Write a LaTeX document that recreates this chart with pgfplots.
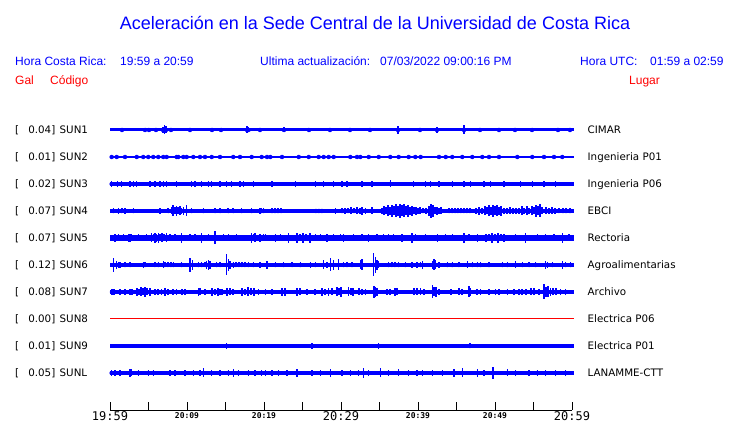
\documentclass[border=0pt]{standalone}
\usepackage{pgfplots}
\pgfplotsset{compat=1.18}
\usepackage{pgfplotstable}
\usepackage{fontspec}
\setmainfont{Liberation Sans}
\newfontfamily\dvs{DejaVu Sans}
\newfontfamily\dvsm{DejaVu Sans Mono}
\newcommand\bigt[1]{{\dvsm\fontsize{12}{12}\selectfont #1}}
\newcommand\smt[1]{\raisebox{2pt}{\dvsm\bfseries\fontsize{8}{8}\selectfont #1}}
\pgfplotsset{spk/.style={only marks, mark=none, blue, error bars/.cd, y dir=both, y explicit, error mark=none, error bar style={line width=#1, draw=blue, solid}}}

% t = minutes after 19:59, h = half height of spike (pt)
\pgfplotstableread[row sep=\\]{t h\\1.56 2\\4.55 2\\5.06 2\\5.97 2\\6.88 3\\7.08 4.5\\7.27 3.5\\7.92 2\\10.39 2\\13.25 2\\14.42 2\\17.79 3.5\\17.99 2.5\\19.48 2\\22.60 2.5\\25.84 2\\28.57 2\\31.17 2\\33.77 2\\37.40 4\\40.26 2\\42.47 3\\45.97 4.5\\48.05 2\\50.52 2\\52.60 2\\54.81 2\\58.18 2\\59.74 2\\}\sunA
\pgfplotstableread[row sep=\\]{t h\\0.22 1.8\\0.87 1.8\\1.95 1.8\\3.47 1.8\\4.32 1.8\\4.97 1.8\\5.62 1.8\\6.27 1.8\\6.92 1.8\\7.36 1.8\\8.66 2.2\\8.87 1.8\\9.52 1.8\\9.96 1.8\\10.82 1.8\\11.69 1.8\\12.34 1.8\\13.21 1.8\\14.29 1.8\\16.01 1.8\\16.88 1.8\\18.40 1.8\\19.70 1.8\\20.39 1.8\\20.82 1.8\\22.34 1.8\\24.51 2.2\\25.81 1.8\\27.10 1.8\\27.75 2.2\\28.40 1.8\\29.05 1.8\\31.21 1.8\\32.08 1.8\\32.51 1.8\\33.60 2.2\\34.90 1.8\\36.40 1.8\\37.49 1.8\\38.79 1.8\\39.65 1.8\\40.35 1.8\\42.73 1.8\\43.60 1.8\\44.45 1.8\\45.75 1.8\\47.05 1.8\\48.35 1.8\\49.22 1.8\\50.52 1.8\\52.90 1.8\\54.84 1.8\\56.36 1.8\\57.66 1.8\\58.74 1.8\\}\sunB
\pgfplotstableread[row sep=\\]{t h\\0.22 3\\1.00 3\\1.52 3\\2.60 3\\3.03 3\\3.47 3\\5.19 3\\5.84 3\\6.49 3\\6.92 3\\7.36 3\\8.66 3\\10.61 3\\11.04 3\\11.91 3\\12.77 3\\13.21 3\\14.29 3\\15.15 3\\15.80 3\\16.88 3\\17.31 3\\18.61 3\\21.04 3\\24.07 3\\26.66 3\\27.75 3\\29.05 3\\30.13 3\\30.78 3\\32.73 3\\34.03 3\\36.40 3.5\\39.43 3\\40.99 3.2\\41.64 3\\42.73 3\\44.45 3\\45.97 3\\46.84 3\\48.57 3\\49.44 3\\51.17 3\\53.33 3\\54.84 3\\56.36 3\\57.88 3\\}\sunC
\pgfplotstableread[row sep=\\]{t h\\0.43 2.5\\1.08 3\\1.52 2.5\\1.95 3\\3.03 2.5\\6.49 3\\7.57 2.5\\8.01 3.5\\8.22 5.5\\8.44 3.5\\8.66 5\\8.87 3.5\\9.09 4.5\\9.31 3\\9.52 4\\9.96 5.5\\10.61 2.5\\12.12 2.5\\13.64 2.5\\14.29 2.5\\15.36 2.5\\16.01 2.5\\17.10 2.5\\18.40 2.5\\19.48 3\\19.70 2.5\\19.96 2.5\\21.04 2.5\\21.43 2.5\\21.82 2.5\\22.21 2.5\\26.75 2.3\\27.14 2.3\\27.53 2.3\\29.26 2.7\\30.13 2.5\\30.52 3\\30.91 2.5\\31.30 3.5\\31.69 2.5\\32.08 3.5\\32.47 2.7\\32.73 4\\33.16 3\\34.03 3.5\\35.32 3\\35.58 4.5\\35.84 3.5\\36.10 5.5\\36.36 4\\36.62 6\\36.88 4.5\\37.14 6.5\\37.40 5\\37.66 7\\37.92 5.5\\38.18 6.5\\38.44 4.5\\38.70 6\\38.96 4\\39.22 5\\39.48 3.5\\39.74 4\\40.00 3\\40.26 3.5\\40.65 2.5\\41.04 3\\41.43 5\\41.69 7\\41.95 6\\42.21 3.5\\42.47 4\\42.73 3\\42.99 3.5\\44.03 2.5\\44.42 2.5\\44.81 2.5\\45.19 2.5\\45.58 2.5\\45.97 2.5\\46.36 2.5\\46.75 2.5\\47.53 3\\47.92 4\\48.31 3\\48.70 4.5\\48.96 3.5\\49.22 5.5\\49.48 4\\49.74 6\\50.00 4.5\\50.26 5.5\\50.52 4\\50.78 5\\51.17 3\\51.56 3\\51.95 3.5\\52.34 3\\52.73 3\\53.12 3\\53.51 4.5\\53.77 3\\54.16 4.5\\54.42 3\\54.81 4.5\\55.06 3.5\\55.32 6\\55.58 4.5\\55.84 6.5\\56.10 3.5\\56.62 3.5\\57.01 3\\57.40 3.5\\57.79 3\\58.31 2.5\\58.83 2.5\\59.22 2.5\\59.74 2.5\\}\sunD
\pgfplotstableread[row sep=\\]{t h\\0.65 4\\1.08 3.5\\1.73 3.5\\2.38 4\\2.60 4\\2.82 3.5\\3.68 3.5\\4.77 3.5\\5.42 4.5\\5.62 3.5\\5.84 5\\6.06 4\\6.27 5\\6.49 3.5\\6.75 4.5\\7.01 3.5\\7.36 4.5\\7.79 3.5\\8.44 3.5\\9.31 5\\10.39 3.5\\11.04 3.5\\11.91 5\\12.77 3.5\\13.64 6.5\\14.71 3.5\\15.36 3.5\\16.45 3.5\\18.40 5\\18.61 3.5\\18.83 4.5\\19.48 4\\19.91 3.5\\20.17 3.5\\21.47 4\\22.12 3.5\\23.21 5\\24.29 5\\24.68 3.5\\25.06 5\\25.45 3.5\\25.97 5\\26.66 3.5\\27.31 3.5\\28.18 4\\29.05 3.5\\29.91 3.5\\30.35 4\\31.65 3.5\\32.73 3.5\\33.60 4\\34.68 3.5\\35.55 3.5\\36.19 3.5\\36.84 3.5\\37.92 4\\39.22 5\\39.65 3.5\\41.00 3.5\\42.51 4\\43.60 3.5\\44.45 3.5\\45.97 5\\46.62 3.5\\47.70 4\\48.83 4\\49.22 3.5\\49.61 5\\50.00 3.5\\50.39 5\\50.78 3.5\\51.17 4\\52.69 3.5\\53.99 5\\55.49 3.5\\56.58 3.5\\57.66 3.5\\58.74 5\\59.61 3.5\\}\sunE
\pgfplotstableread[row sep=\\]{t h\\0.43 6.8\\0.87 4\\1.08 3\\1.30 3\\1.95 2.5\\2.60 2.5\\4.32 3\\4.55 2.5\\5.84 2.5\\6.27 2.5\\6.92 3.5\\7.14 2.5\\7.53 2.5\\7.92 2.5\\8.22 2.5\\9.31 2.5\\10.39 7\\10.69 5\\11.47 2.5\\11.91 2.5\\12.34 2.5\\12.56 4\\12.77 5\\12.99 4\\13.86 2.5\\14.29 2.5\\15.16 10.5\\15.36 6\\15.58 4\\16.01 3\\16.36 2.5\\16.75 2.5\\17.14 2.5\\17.53 2.5\\17.96 2.5\\18.61 2.5\\19.48 3\\20.39 4\\21.47 2.5\\22.56 2.5\\23.64 2.5\\24.71 2.5\\26.01 3\\26.66 2.5\\27.75 4.5\\28.18 3\\28.61 6.5\\29.05 5\\29.70 5.5\\30.35 2.5\\30.78 2.5\\31.43 2.5\\32.51 4.5\\32.73 5.5\\34.25 11.5\\34.45 8\\34.68 5\\34.90 3.5\\36.19 2.5\\36.62 2.5\\37.01 2.5\\37.49 2.5\\38.35 2.5\\39.22 3\\39.87 3\\40.30 2.5\\40.56 4\\41.86 4\\42.08 5.5\\42.30 4.5\\42.73 3\\43.81 2.5\\44.45 2.5\\45.32 2.5\\46.40 3.5\\47.05 2.5\\47.70 2.5\\48.14 2.5\\49.22 2.5\\50.95 2.5\\51.60 2.5\\52.69 3.5\\53.55 2.5\\54.42 2.5\\55.29 2.5\\56.58 4\\56.79 3\\57.44 2.5\\58.74 4\\59.18 2.5\\59.83 2.5\\}\sunF
\pgfplotstableread[row sep=\\]{t h\\0.26 3\\0.52 3\\1.30 2.7\\1.95 2.7\\2.60 3\\2.82 3\\3.51 4\\3.77 3\\4.03 4.5\\4.29 3.5\\4.55 5\\4.81 3.5\\5.19 4\\5.84 3\\6.23 3\\6.71 3\\7.14 4\\7.57 3\\8.22 2.7\\8.66 2.7\\9.35 3\\9.74 3\\11.47 4\\11.69 3.5\\12.34 2.7\\13.25 4\\13.64 3\\14.03 4\\14.29 3\\14.51 2.7\\15.19 4\\15.58 3.5\\16.01 2.7\\17.14 4\\17.53 3\\17.92 4.5\\18.31 3.5\\18.70 4\\19.26 2.7\\20.17 2.7\\21.04 3\\22.34 4\\22.73 4\\24.29 4\\24.71 3.5\\25.58 2.7\\26.66 2.7\\27.53 4\\27.96 3\\28.40 4\\28.83 3.5\\29.48 4.5\\29.74 3.5\\30.00 5\\31.00 4.5\\31.30 3.5\\31.56 4\\32.30 3.5\\32.73 3\\33.16 2.7\\34.25 6.3\\34.48 5\\34.68 4\\35.97 3\\36.40 3\\37.05 4\\37.27 3.5\\39.48 3.5\\39.87 3.5\\40.35 3.5\\40.78 3\\41.86 6.5\\42.08 4.5\\42.30 5\\42.73 3\\44.25 2.7\\45.32 3.5\\45.75 2.7\\46.62 5.5\\46.84 4\\47.70 3\\48.14 3\\49.22 2.7\\50.09 3\\50.52 3\\51.60 2.7\\52.47 2.7\\53.12 3\\53.51 3\\53.99 3\\54.64 3.5\\55.06 3.5\\55.71 2.7\\56.36 7.5\\56.62 5\\56.88 5.5\\57.23 4\\57.53 3.5\\57.92 3.5\\58.53 3\\59.18 2.7\\}\sunG
\pgfplotstableread[row sep=\\]{t h\\15.16 2.7\\26.23 2.7\\34.90 2.7\\46.75 2.5\\}\sunI
\pgfplotstableread[row sep=\\]{t h\\0.22 3\\0.65 3\\1.30 3\\2.60 4\\2.82 3.5\\3.68 3\\4.97 3\\5.62 3\\7.79 3\\8.44 3\\9.74 3\\10.82 3\\11.69 3\\12.12 4.5\\13.21 3\\14.29 3\\15.36 3\\16.01 4\\16.66 3\\17.96 3\\18.83 3\\19.70 3\\20.17 3\\21.04 3\\21.91 3\\22.99 3\\24.29 4\\26.23 3\\27.31 3\\28.61 4\\30.13 3\\31.21 3\\32.30 3\\32.95 5\\33.60 3\\35.10 4.5\\36.19 3\\37.49 3.5\\38.79 3\\39.87 3\\40.56 3\\41.86 3\\43.16 3\\44.68 4\\45.75 4.5\\47.70 4\\48.57 3\\49.74 6\\51.60 3.5\\52.69 3\\54.42 3\\55.49 3\\56.58 3\\57.88 3\\59.18 3\\}\sunL

\begin{document}
\begin{tikzpicture}
\useasboundingbox (0pt,0pt) rectangle (740pt,423pt);
\begin{axis}[
  at={(110pt,13pt)}, anchor=south west,
  scale only axis, width=462pt, height=300pt,
  xmin=0, xmax=60, ymin=13, ymax=313,
  clip=false,
  axis x line=bottom, axis y line=none,
  axis line style={-, black, line width=0.8pt},
  xtick={0,5,...,60},
  xticklabels={\bigt{19:59},,\smt{20:09},,\smt{20:19},,\bigt{20:29},,\smt{20:39},,\smt{20:49},,\bigt{20:59}},
  tick align=inside, major tick length=8pt,
  tick style={black, line width=0.8pt},
  xticklabel style={anchor=base, yshift=-11pt, inner sep=0pt},
]
% SUN1
\addplot[blue, line width=3pt] coordinates {(0,293) (60.3,293)};
\addplot[spk=1.2pt] table[x=t, y expr=293, y error=h] {\sunA};
% SUN2
\addplot[blue, line width=1.1pt] coordinates {(0,266) (60.3,266)};
\addplot[spk=0.7pt] table[x=t, y expr=266, y error=h] {\sunB};
% SUN3
\addplot[blue, line width=3.7pt] coordinates {(0,239) (60.3,239)};
\addplot[spk=1.3pt] table[x=t, y expr=239, y error=h] {\sunC};
% SUN4
\addplot[blue, line width=3.3pt] coordinates {(0,212) (60.3,212)};
\addplot[spk=1.6pt] table[x=t, y expr=212, y error=h] {\sunD};
% SUN5
\addplot[blue, line width=5.3pt] coordinates {(0,185) (60.3,185)};
\addplot[spk=1.5pt] table[x=t, y expr=185, y error=h] {\sunE};
% SUN6
\addplot[blue, line width=3.3pt] coordinates {(0,158) (60.3,158)};
\addplot[spk=1.3pt] table[x=t, y expr=158, y error=h] {\sunF};
% SUN7
\addplot[blue, line width=4pt] coordinates {(0,131) (60.3,131)};
\addplot[spk=1.6pt] table[x=t, y expr=131, y error=h] {\sunG};
% SUN8
\addplot[red, line width=1pt] coordinates {(0,104) (60.3,104)};
% SUN9
\addplot[blue, line width=3.6pt] coordinates {(0,77) (60.3,77)};
\addplot[spk=1.2pt] table[x=t, y expr=77, y error=h] {\sunI};
% SUNL
\addplot[blue, line width=3.7pt] coordinates {(0,50) (60.3,50)};
\addplot[spk=1.3pt] table[x=t, y expr=50, y error=h] {\sunL};
\end{axis}

% header
\node[anchor=base, inner sep=0pt, text=blue, font=\fontsize{18}{18}\selectfont] at (375pt,393.5pt) {Aceleración en la Sede Central de la Universidad de Costa Rica};
\begin{scope}[every node/.style={anchor=base west, inner sep=0pt, text=blue, font=\fontsize{12}{12}\selectfont}]
\node at (15pt,357.7pt) {Hora Costa Rica:};
\node at (120pt,357.7pt) {19:59 a 20:59};
\node at (260pt,357.7pt) {Ultima actualización:};
\node at (380pt,357.7pt) {07/03/2022 09:00:16 PM};
\node at (580pt,357.7pt) {Hora UTC:};
\node at (650pt,357.7pt) {01:59 a 02:59};
\node[text=red] at (15pt,338.7pt) {Gal};
\node[text=red] at (50pt,338.7pt) {Código};
\node[text=red] at (629pt,338.7pt) {Lugar};
\end{scope}

% row labels
\foreach \yy/\vv/\cc/\ss in {293/0.04/SUN1/CIMAR, 266/0.01/SUN2/Ingenieria P01, 239/0.02/SUN3/Ingenieria P06, 212/0.07/SUN4/EBCI, 185/0.07/SUN5/Rectoria, 158/0.12/SUN6/Agroalimentarias, 131/0.08/SUN7/Archivo, 104/0.00/SUN8/Electrica P06, 77/0.01/SUN9/Electrica P01, 50/0.05/SUNL/LANAMME-CTT}{
  \node[anchor=base west, inner sep=0pt, font=\dvs\fontsize{10.3}{10.3}\selectfont, yshift=-3.75pt] at (15pt,\yy pt) {[};
  \node[anchor=base east, inner sep=0pt, font=\dvs\fontsize{10.3}{10.3}\selectfont, yshift=-3.75pt] at (55.5pt,\yy pt) {\vv]};
  \node[anchor=base west, inner sep=0pt, font=\dvs\fontsize{10.3}{10.3}\selectfont, yshift=-3.75pt] at (59.5pt,\yy pt) {\cc};
  \node[anchor=base west, inner sep=0pt, font=\dvs\fontsize{10.3}{10.3}\selectfont, yshift=-3.75pt] at (587.5pt,\yy pt) {\ss};
}
\end{tikzpicture}
\end{document}
